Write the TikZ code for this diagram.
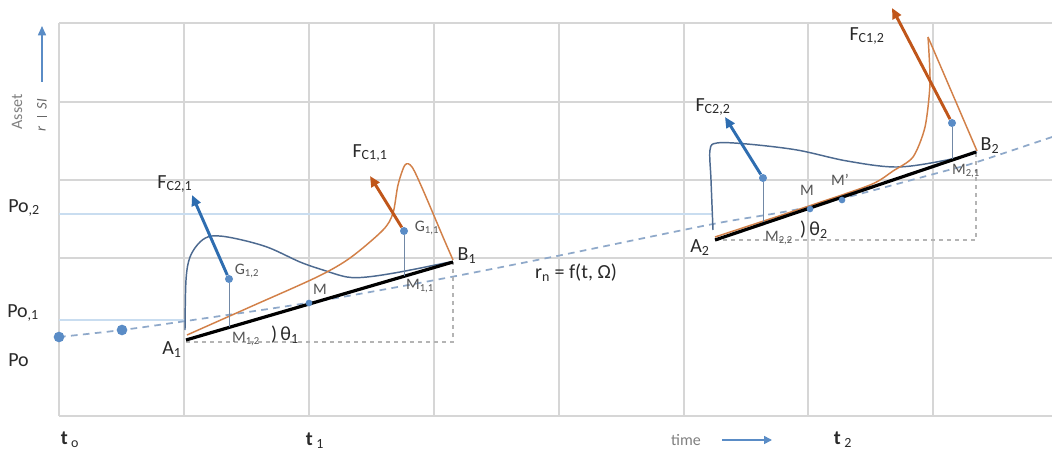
\documentclass[tikz,border=0pt]{standalone}
\usepackage{fontspec}
\setmainfont{Carlito}
\usetikzlibrary{arrows.meta}
\definecolor{gridc}{HTML}{D6D6D6}
\definecolor{polc}{HTML}{C9DDF0}
\definecolor{bluec}{HTML}{2E6DB0}
\definecolor{dotc}{HTML}{5A8CC6}
\definecolor{slatec}{HTML}{4D6A90}
\definecolor{orangec}{HTML}{D28048}
\definecolor{orangearr}{HTML}{C0561A}
\definecolor{rnc}{HTML}{8FA9CA}
\definecolor{txt}{HTML}{2A2A2A}
\definecolor{trig}{HTML}{B4B4B4}
\begin{document}
\begin{tikzpicture}[x=0.75pt,y=-0.75pt,
  gridline/.style={draw=gridc,line width=0.9pt},
  poline/.style={draw=polc,line width=1pt},
  lever/.style={draw=black,line width=2.4pt},
  bcurve/.style={draw=slatec,line width=1.1pt},
  ocurve/.style={draw=orangec,line width=1.1pt},
  barrow/.style={draw=bluec,line width=2.2pt,-{Triangle[length=8pt,width=7pt]}},
  oarrow/.style={draw=orangearr,line width=2.2pt,-{Triangle[length=8pt,width=7pt]}},
  trigline/.style={draw=trig,dashed,line width=0.9pt},
  rnline/.style={draw=rnc,dash pattern=on 5pt off 4pt,line width=1.3pt},
  drop/.style={draw=slatec!80,line width=0.7pt},
  gdot/.style={circle,fill=dotc,inner sep=0,minimum size=6pt},
  bigdot/.style={circle,fill=dotc,inner sep=0,minimum size=8pt},
  lab/.style={text=txt,font=\fontsize{15}{17}\selectfont,inner sep=0},
  slab/.style={text=txt!80,font=\fontsize{12}{14}\selectfont,inner sep=0},
  axlab/.style={text=gray,font=\fontsize{12}{14}\selectfont,inner sep=0}]
\useasboundingbox (0,0) rectangle (1052,459);
\fill[white] (0,0) rectangle (1052,459);
% grid
\foreach \x in {59,184,309,434,559,684,808,933}
  \draw[gridline] (\x,23) -- (\x,416);
\foreach \y in {23,102,180,258,416}
  \draw[gridline] (59,\y) -- (1052,\y);
\draw[poline] (59,214) -- (712,214);
\draw[poline] (59,320) -- (186,320);
% axis labels
\node[axlab,rotate=90] (asset) at (17,112) {Asset};
\node[axlab,rotate=90,font=\fontsize{11}{13}\selectfont\itshape,text=gray!80!black] (si) at (42,104) {SI};
\draw[gray!80!black,line width=0.6pt] (37,116) -- (47,116);
\node[axlab,rotate=90,font=\fontsize{11}{13}\selectfont\itshape,text=gray!80!black] (rr) at (42,129) {r};
\coordinate (axs) at (42,82);
\coordinate (axe) at (42,26);
\draw[draw=dotc,line width=1.2pt,-{Triangle[length=7pt,width=6pt]}] (axs) -- (axe);
% level labels
\node[lab,anchor=west] (po2) at (8,208) {Po\textsubscript{,2}};
\node[lab,anchor=west] (po1) at (7,313) {Po\textsubscript{,1}};
\node[lab,anchor=west] (po) at (8,360) {Po};
% time labels
\node[lab] (t0) at (70,440) {\textbf{t}\,\textsubscript{o}};
\node[lab] (t1) at (315,441) {\textbf{t}\,\textsubscript{1}};
\node[lab] (t2) at (843,440) {\textbf{t}\,\textsubscript{2}};
\node[axlab] (time) at (686,440) {time};
\coordinate (tas) at (722,440);
\coordinate (tae) at (772,440);
\draw[draw=dotc,line width=1.2pt,-{Triangle[length=6pt,width=6pt]}] (tas) -- (tae);
% r_n curve
\draw[rnline] plot[smooth,tension=0.5] coordinates {(59,337) (122,330) (186,321) (307,303) (430,281) (557,256) (713,224) (808,207) (945,171) (977,162) (1052,137)};
\node[bigdot] (d0) at (59,337) {};
\node[bigdot] (d1) at (122,330) {};
\node[lab] (rn) at (576,273) {r\textsubscript{n} = f(t, Ω)};
% ---------- lever 1 ----------
\coordinate (A1) at (186,340);
\coordinate (B1) at (453,262);
\coordinate (C1) at (453,342);
\draw[trigline] (A1 |- C1) -- (C1) -- (B1);
\draw[bcurve] plot[smooth,tension=0.55] coordinates {(185,330) (186,280) (190,257) (200,242) (212,236) (233,238) (267,247) (300,262) (323,270) (347,277) (367,277) (400,272) (450,262)};
\draw[ocurve] plot[smooth,tension=0.5] coordinates {(187,335) (250,307) (317,277) (350,258) (383,230) (393,213) (398,185) (405,165) (412,167) (423,190) (443,237) (453,260)};
\draw[lever] (A1) -- (B1);
\node[gdot] (G12) at (229,279) {};
\node[gdot] (G11) at (404,231) {};
\coordinate (M12) at (229,327);
\coordinate (M11) at (404,276);
\draw[drop] (G12) -- (M12);
\draw[drop] (G11) -- (M11);
\node[gdot,minimum size=5pt] (Mdot1) at (309,303) {};
\coordinate (F21t) at (192,195);
\coordinate (F11t) at (370,176);
\draw[barrow] (G12) -- (F21t);
\draw[oarrow] (G11) -- (F11t);
\node[lab] (lA1) at (172,350) {A\textsubscript{1}};
\node[lab] (lB1) at (467,256) {B\textsubscript{1}};
\node[lab] (lF21) at (175,184) {F\textsubscript{C2,1}};
\node[lab] (lF11) at (370,153) {F\textsubscript{C1,1}};
\node[slab] (lG12) at (247,271) {G\textsubscript{1,2}};
\node[slab] (lG11) at (427,228) {G\textsubscript{1,1}};
\node[slab] (lM1) at (320,289) {M};
\node[slab] (lM12) at (246,339) {M\textsubscript{1,2}};
\node[slab] (lM11) at (420,286) {M\textsubscript{1,1}};
\node[lab] (th1) at (285,335) {)\,θ\textsubscript{1}};
% ---------- lever 2 ----------
\coordinate (A2) at (715,240);
\coordinate (B2) at (976,152);
\coordinate (C2) at (976,240);
\draw[trigline] (A2) -- (C2) -- (B2);
\draw[bcurve] plot[smooth,tension=0.55] coordinates {(713,230) (711,180) (710,150) (717,143) (747,144) (797,150) (847,161) (897,167) (947,160) (977,152)};
\draw[ocurve] plot[smooth,tension=0.45] coordinates {(715,237) (800,209) (870,185) (893,171) (913,157) (925,127) (930,83) (928,37)};
\draw[ocurve] (928,37) -- (977,151);
\draw[lever] (A2) -- (B2);
\node[gdot] (G22) at (763,178) {};
\node[gdot] (G21) at (952,123) {};
\coordinate (M22) at (763,222);
\coordinate (M21) at (952,159);
\draw[drop] (G22) -- (M22);
\draw[drop] (G21) -- (M21);
\node[gdot,minimum size=5pt] (Mdot2) at (810,209) {};
\node[gdot,minimum size=5pt] (Mpdot) at (842,200) {};
\coordinate (F22t) at (725,117);
\coordinate (F12t) at (892,8);
\draw[barrow] (G22) -- (F22t);
\draw[oarrow] (G21) -- (F12t);
\node[lab] (lA2) at (700,248) {A\textsubscript{2}};
\node[lab] (lB2) at (990,146) {B\textsubscript{2}};
\node[lab] (lF22) at (713,107) {F\textsubscript{C2,2}};
\node[lab] (lF12) at (867,36) {F\textsubscript{C1,2}};
\node[slab] (lM2) at (807,190) {M};
\node[slab] (lMp) at (840,180) {M'};
\node[slab] (lM22) at (779,238) {M\textsubscript{2,2}};
\node[slab] (lM21) at (966,171) {M\textsubscript{2,1}};
\node[lab] (th2) at (814,230) {)\,θ\textsubscript{2}};
\end{tikzpicture}
\end{document}
